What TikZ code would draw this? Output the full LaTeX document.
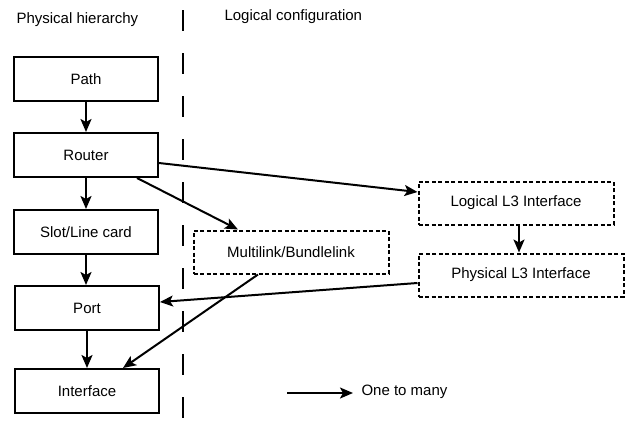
\documentclass[tikz,border=0pt]{standalone}
\usepackage{fontspec}
\setmainfont{Liberation Sans}
\usepackage{tikz}
\usetikzlibrary{arrows.meta,shapes,calc,positioning}

\begin{document}
\begin{tikzpicture}[x=1pt,y=-1pt]

           \tikzstyle{every edge}=[-{Stealth[length=13pt,width=11pt,inset=3pt]},draw,line width=2pt]
           \tikzstyle{phys}=[draw,line width=2pt,minimum width=144pt,minimum height=44pt,inner sep=0pt]
           \tikzstyle{logi}=[draw,line width=2pt,dash pattern=on 4pt off 2.5pt,minimum height=43pt,inner sep=0pt]
           \tikzstyle{every node}=[font=\fontsize{15}{18}\selectfont]

    \useasboundingbox (0,0) rectangle (627,424);

    \node[anchor=west] (T1) at (13,20) {Physical hierarchy};
    \node[anchor=west] (T2) at (221,17) {Logical configuration};

    \coordinate (S1) at (183,10);
    \coordinate (S2) at (183,424);
    \draw[line width=2pt,dash pattern=on 21pt off 22pt] (S1) -- (S2);

    \node[phys] (A1) at (86,79) {Path};
    \node[phys] (A2) at (86,155) {Router};
    \node[phys] (A3) at (86,232) {Slot/Line card};
    \node[phys] (A4) at (87,308) {Port};
    \node[phys] (A5) at (87,391) {Interface};

    \node[logi,minimum width=195pt] (B1) at (291,252) {Multilink/Bundlelink};
    \node[logi,minimum width=195pt] (B2) at (516,203) {Logical L3 Interface};
    \node[logi,minimum width=205pt] (B3) at (521,275) {Physical L3 Interface};

    \path (A1) edge (A2);
    \path (A2) edge (A3);
    \path (A3) edge (A3 |- A4.north);
    \path (A4) edge (A4 |- A5.north);
    \path ([yshift=-8pt]A2.east) edge ([yshift=11pt]B2.west);
    \path ([xshift=51pt]A2.south) edge ([xshift=-53pt]B1.north);
    \path ([xshift=-33pt]B1.south) edge ([xshift=36pt]A5.north);
    \path ([xshift=3pt]B2.south) edge ([xshift=3pt]B2.south |- B3.north);
    \path ([yshift=-8pt]B3.west) edge ([yshift=6pt]A4.east);

    \coordinate (L1) at (287,393);
    \coordinate (L2) at (353,393);
    \path (L1) edge (L2);
    \node[anchor=west] (L3) at (358,392) {One to many};

\end{tikzpicture}
\end{document}
